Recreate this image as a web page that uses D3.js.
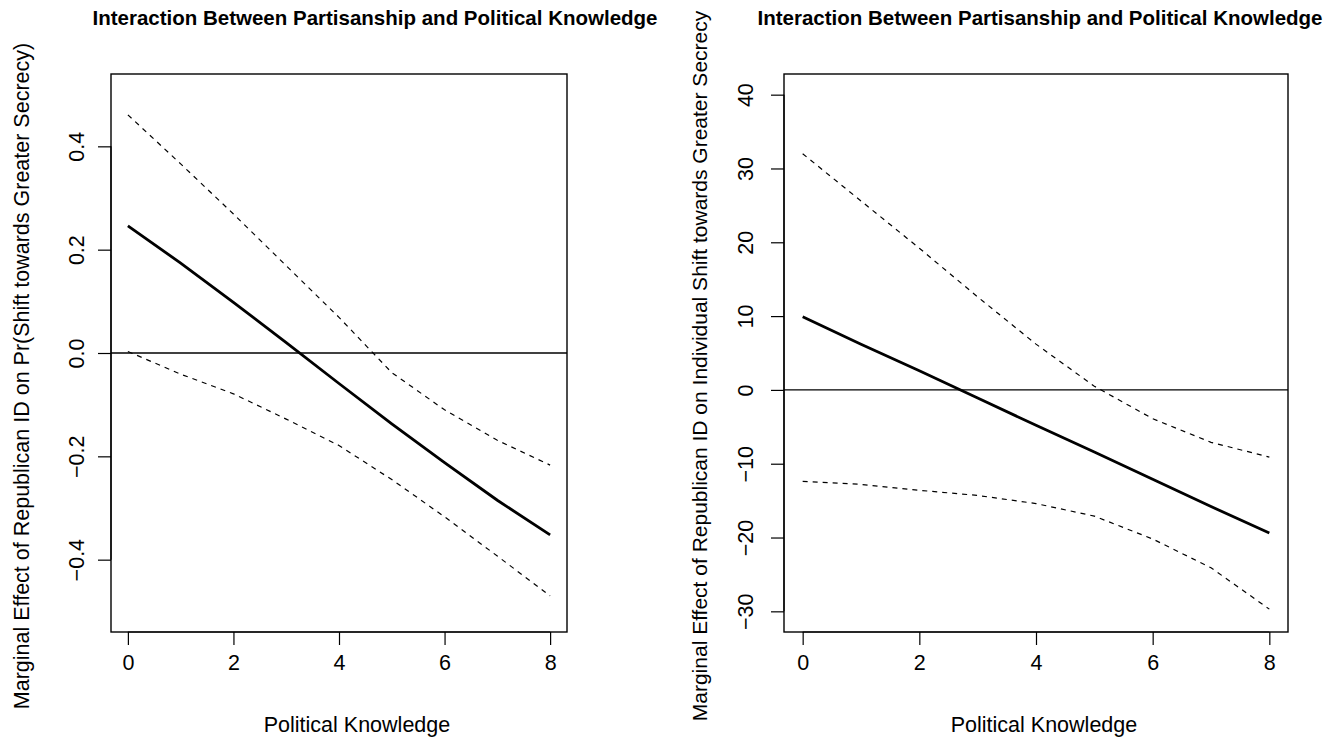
<!DOCTYPE html>
<html>
<head>
<meta charset="utf-8">
<script src="https://cdn.jsdelivr.net/npm/d3@7"></script>
<style>
  body { margin: 0; background: #fff; }
  text { font-family: "Liberation Sans", Arial, Helvetica, sans-serif; fill: #000; }
  .ttl { font-weight: bold; }
</style>
</head>
<body>
<div id="graphicContainer"></div>
<script>
// knowledge scale 0-8, estimates
var knowledge = [0, 1, 2, 3, 4, 5, 6, 7, 8];

var probEst   = [0.246, 0.174, 0.098, 0.020, -0.059, -0.137, -0.212, -0.285, -0.352];
var probUpper = [0.461, 0.366, 0.269, 0.169, 0.069, -0.038, -0.110, -0.169, -0.217];
var probLower = [0.003, -0.041, -0.079, -0.128, -0.179, -0.245, -0.317, -0.393, -0.470];
var probTicks = [-0.4, -0.2, 0.0, 0.2, 0.4];

var shiftEst   = [9.9, 6.2, 2.6, -1.1, -4.8, -8.4, -12.1, -15.8, -19.4];
var shiftUpper = [32.0, 25.6, 19.2, 12.6, 6.2, 0.5, -3.9, -7.1, -9.1];
var shiftLower = [-12.4, -12.8, -13.6, -14.3, -15.4, -17.1, -20.2, -24.1, -29.7];
var shiftTicks = [-30, -20, -10, 0, 10, 20, 30, 40];

var xTicks = [0, 2, 4, 6, 8];

var titleText = "Interaction Between Partisanship and Political Knowledge";
var xTitle = "Political Knowledge";

var width = 1333, height = 745;
var fs = "21.5px";

var svg = d3.select("#graphicContainer").append("svg")
	.attr("width", width)
	.attr("height", height);

// R style padding: 4% either side of the limits
function pad(lo, hi) {
	var r = hi - lo;
	return [lo - 0.04 * r, hi + 0.04 * r];
}

function drawPanel(opts) {
	var x = d3.scaleLinear().domain(pad(0, 8)).range([opts.left, opts.right]);
	var y = d3.scaleLinear().domain(pad(opts.ylim[0], opts.ylim[1])).range([opts.bottom, opts.top]);

	var g = svg.append("g");

	var line = d3.line()
		.x((d, i) => x(knowledge[i]))
		.y(d => y(d));

	// zero reference
	g.append("line")
		.attr("x1", opts.left).attr("x2", opts.right)
		.attr("y1", y(0)).attr("y2", y(0))
		.attr("stroke", "#000").attr("stroke-width", 1.3);

	[opts.upper, opts.lower].forEach(function(band) {
		g.append("path")
			.datum(band)
			.attr("d", line)
			.attr("fill", "none").attr("stroke", "#000")
			.attr("stroke-width", 1.2).attr("stroke-dasharray", "5,5");
	});

	g.append("path")
		.datum(opts.est)
		.attr("d", line)
		.attr("fill", "none").attr("stroke", "#000")
		.attr("stroke-width", 2.8);

	// box
	g.append("rect")
		.attr("x", opts.left).attr("y", opts.top)
		.attr("width", opts.right - opts.left)
		.attr("height", opts.bottom - opts.top)
		.attr("fill", "none").attr("stroke", "#000").attr("stroke-width", 1.4);

	// x axis
	var xAxis = d3.axisBottom(x).tickValues(xTicks).tickSize(13).tickPadding(10).tickSizeOuter(0);
	var xa = g.append("g")
		.attr("transform", "translate(0," + opts.bottom + ")")
		.call(xAxis);
	xa.select(".domain")
		.attr("d", "M" + x(xTicks[0]) + ",0H" + x(xTicks[xTicks.length - 1]))
		.attr("stroke-width", 1.2);
	xa.selectAll(".tick line").attr("stroke-width", 1.2);
	xa.selectAll("text").style("font-size", fs).attr("dy", "0.71em");

	// y axis, labels turned like R's las = 0
	var yAxis = d3.axisLeft(y).tickValues(opts.yTicks).tickSize(13).tickSizeOuter(0)
		.tickFormat(opts.fmt);
	var ya = g.append("g")
		.attr("transform", "translate(" + opts.left + ",0)")
		.call(yAxis);
	ya.select(".domain")
		.attr("d", "M0," + y(opts.yTicks[0]) + "V" + y(opts.yTicks[opts.yTicks.length - 1]))
		.attr("stroke-width", 1.2);
	ya.selectAll(".tick line").attr("stroke-width", 1.2);
	ya.selectAll("text")
		.style("font-size", fs)
		.attr("x", null)
		.attr("text-anchor", "middle")
		.attr("transform", "translate(" + (opts.yLabX - opts.left) + ",0) rotate(-90)")
		.attr("dy", "0.35em");

	// titles
	g.append("text")
		.attr("class", "ttl")
		.attr("x", opts.titleX).attr("y", 25)
		.attr("text-anchor", "middle")
		.style("font-size", "20.5px")
		.text(titleText);

	g.append("text")
		.attr("x", opts.xTitleX).attr("y", 732)
		.attr("text-anchor", "middle")
		.style("font-size", fs)
		.text(xTitle);

	g.append("text")
		.attr("transform", "translate(" + opts.yTitleX + "," + opts.yTitleY + ") rotate(-90)")
		.attr("text-anchor", "middle")
		.attr("dy", "0.35em")
		.style("font-size", opts.yTitleSize)
		.text(opts.yTitle);
}

drawPanel({
	left: 111, right: 567, top: 74, bottom: 632,
	ylim: [-0.5, 0.5], yTicks: probTicks, fmt: d3.format(".1f"),
	est: probEst, upper: probUpper, lower: probLower,
	yLabX: 76, yTitleX: 21, yTitleY: 376, titleX: 375, xTitleX: 357,
	yTitleSize: fs,
	yTitle: "Marginal Effect of Republican ID on Pr(Shift towards Greater Secrecy)"
});

drawPanel({
	left: 784, right: 1288, top: 74, bottom: 632,
	ylim: [-30, 40], yTicks: shiftTicks, fmt: d3.format("d"),
	est: shiftEst, upper: shiftUpper, lower: shiftLower,
	yLabX: 745, yTitleX: 700, yTitleY: 366, titleX: 1040, xTitleX: 1044,
	yTitleSize: "21px",
	yTitle: "Marginal Effect of Republican ID on Individual Shift towards Greater Secrecy"
});
</script>
</body>
</html>
